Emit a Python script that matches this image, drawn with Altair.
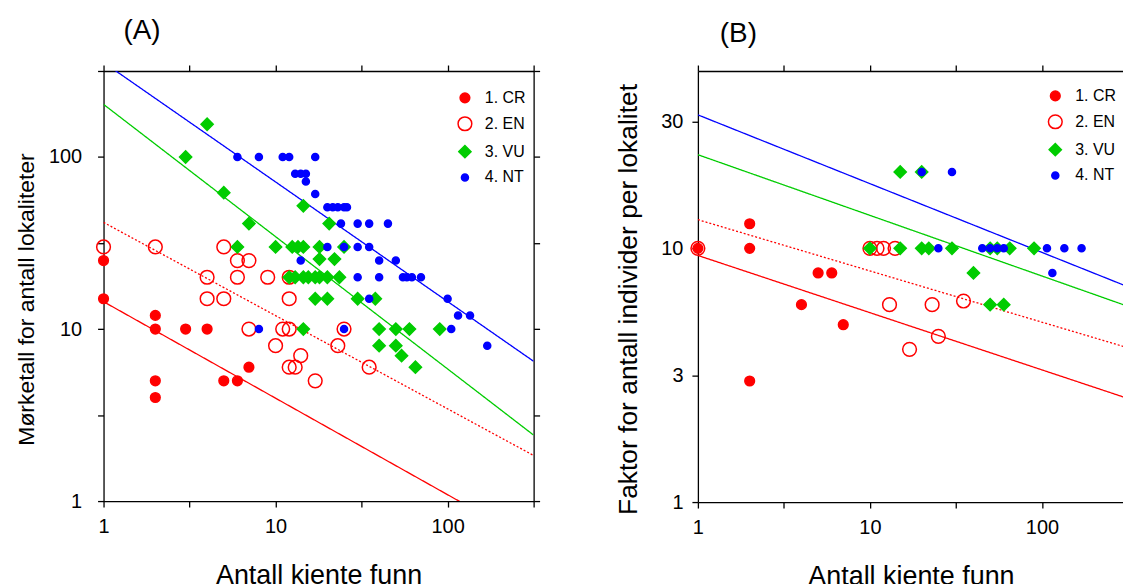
import math
import altair as alt
import pandas as pd

CATS = ["1. CR", "2. EN", "3. VU", "4. NT"]

# ---------------- Panel A data ----------------
a_cr_x = [1, 1, 2, 2, 3, 4, 2, 2, 5, 6, 7]
a_cr_y = [25, 15, 12, 10, 10, 10, 5, 4, 5, 5, 6]

a_en_x = [1, 2, 5, 6, 7, 4, 6, 9, 12, 4, 5, 12, 7, 11, 12, 25, 10, 14, 12, 13, 17, 23, 35]
a_en_y = [30, 30, 30, 25, 25, 20, 20, 20, 20, 15, 15, 15, 10, 10, 10, 10, 8, 7, 6, 6, 5, 8, 6]

a_vu_x = [3, 4, 5, 7, 14.5, 20.5, 6, 10, 12.5, 13.5, 14.5, 18, 25, 18, 22,
          12, 13, 14.5, 15.5, 17, 18, 20, 23.5, 17, 20, 30, 38, 14.5, 40, 50, 60, 90,
          40, 50, 54, 65]
a_vu_y = [100, 155, 62, 41, 52, 41, 30, 30, 30, 30, 30, 30, 30, 25.5, 25.5,
          20, 20, 20, 20, 20, 20, 20, 20, 15, 15, 15, 15, 10, 10, 10, 10, 10,
          8, 8, 7, 6]

a_nt_x = [6, 8, 11, 12, 17, 13, 14, 15, 15, 17, 20, 21.5, 23, 25, 26, 24, 30, 35, 45,
          20, 25, 30, 35, 14, 40, 50, 30, 40, 55, 58, 62, 70, 35, 100, 115, 135,
          8, 25, 105, 170]
a_nt_y = [100, 100, 100, 100, 100, 80, 80, 80, 72, 61, 51, 51, 51, 51, 51, 41, 41, 41, 41,
          30, 30, 30, 30, 25, 25, 25, 20, 20, 20, 20, 20, 20, 15, 15, 12, 12,
          10, 10, 10, 8]

# fitted lines (log10 y = a + b * log10 x)
a_fit_a = [1.159, 1.62, 2.306, 2.55]
a_fit_b = [-0.561, -0.542, -0.769, -0.695]

# ---------------- Panel B data ----------------
b_cr_x = [1, 2, 2, 5, 6, 4, 7, 2]
b_cr_y = [10, 10, 12.5, 8, 8, 6, 5, 3]

b_en_x = [1, 10, 11, 12, 14, 13, 23, 35, 17, 25]
b_en_y = [10, 10, 10, 10, 10, 6, 6, 6.2, 4, 4.5]

b_vu_x = [15, 20, 10, 15, 20, 22, 30, 50, 55, 65, 90, 40, 50, 60]
b_vu_y = [20, 20, 10, 10, 10, 10, 10, 10, 10, 10, 10, 8, 6, 6]

b_nt_x = [20, 30, 25, 45, 50, 55, 60, 107, 135, 170, 115]
b_nt_y = [20, 20, 10, 10, 10, 10, 10, 10, 10, 10, 8]

b_fit_a = [0.972, 1.113, 1.369, 1.526]
b_fit_b = [-0.2255, -0.202, -0.239, -0.271]

# ---------------- styles ----------------
FILLS = ["#ff0000", "transparent", "#00cc00", "#0000ff"]
STROKES = ["#ff0000", "#ff0000", "#00cc00", "#0000ff"]
SHAPES = ["circle", "circle", "diamond", "circle"]
SIZES = [95, 190, 150, 50]
LINE_COLORS = ["#ff0000", "#ff0000", "#00cc00", "#0000ff"]
LINE_DASH = [[1, 0], [2, 2], [1, 0], [1, 0]]

FONT = "Liberation Sans"


def points_df(groups):
    rows = []
    for cat, xs, ys in groups:
        for x, y in zip(xs, ys):
            rows.append({"x": x, "y": y, "cat": cat})
    return pd.DataFrame(rows)


def lines_df(fa, fb, xmin, xmax):
    rows = []
    for cat, a, b in zip(CATS, fa, fb):
        for x in (xmin, xmax):
            rows.append({"x": x, "y": 10 ** (a + b * math.log10(x)), "cat": cat})
    return pd.DataFrame(rows)


DEC_LABELS = "(datum.value == 1 || datum.value == 10 || datum.value == 100) ? '' + datum.value : ''"


def panel(pdf, ldf, xdom, ydom, xvals, yvals, ylabel_expr, ytitle, ytitle_size, title, dx,
          width, height, y_lab_pad, y_title_pad, title_y, leg_x, leg_y):
    xs = alt.Scale(type="log", domain=xdom, nice=False)
    ys = alt.Scale(type="log", domain=ydom, nice=False)

    x_bottom = alt.Axis(orient="bottom", values=xvals, labelExpr=DEC_LABELS,
                        title="Antall kjente funn", grid=False, tickSize=6,
                        labelPadding=10, titlePadding=26, labelFlush=False,
                        labelOverlap=False)
    y_left = alt.Axis(orient="left", values=yvals, labelExpr=ylabel_expr,
                      title=ytitle, titleFontSize=ytitle_size, grid=False, tickSize=6,
                      labelPadding=y_lab_pad, titlePadding=y_title_pad, titleY=title_y,
                      labelFlush=False, labelOverlap=False)
    x_top = alt.Axis(orient="top", values=xvals, labels=False, title=None,
                     grid=False, tickSize=6)
    y_right = alt.Axis(orient="right", values=yvals, labels=False, title=None,
                       grid=False, tickSize=6)

    layers = []
    for i, cat in enumerate(CATS):
        ln = alt.Chart(ldf).transform_filter(alt.datum.cat == cat).mark_line(
            clip=True, color=LINE_COLORS[i], strokeWidth=1.3, strokeDash=LINE_DASH[i]
        ).encode(
            x=alt.X("x:Q", scale=xs, axis=x_top if i == 0 else None),
            y=alt.Y("y:Q", scale=ys, axis=y_right if i == 0 else None),
        )
        layers.append(ln)

    leg = alt.Legend(title=None, orient="none", legendX=leg_x, legendY=leg_y,
                     labelFontSize=16, labelFont=FONT, rowPadding=8,
                     labelOffset=12, symbolStrokeWidth=1.5, padding=0)
    pts = alt.Chart(pdf).mark_point(filled=True, opacity=1, strokeWidth=1.5).encode(
        x=alt.X("x:Q", scale=xs, axis=x_bottom),
        y=alt.Y("y:Q", scale=ys, axis=y_left),
        fill=alt.Fill("cat:N", scale=alt.Scale(domain=CATS, range=FILLS), legend=leg),
        stroke=alt.Stroke("cat:N", scale=alt.Scale(domain=CATS, range=STROKES), legend=leg),
        shape=alt.Shape("cat:N", scale=alt.Scale(domain=CATS, range=SHAPES), legend=leg),
        size=alt.Size("cat:N", scale=alt.Scale(type="ordinal", domain=CATS, range=SIZES), legend=leg),
    )
    layers.append(pts)

    return alt.layer(*layers).resolve_axis(x="independent", y="independent").properties(
        width=width, height=height,
        title=alt.TitleParams(text=title, anchor="start", frame="group", dx=dx,
                              fontSize=28, font=FONT, fontWeight="normal", offset=16),
    )


pdf_a = points_df([(CATS[0], a_cr_x, a_cr_y), (CATS[1], a_en_x, a_en_y),
                   (CATS[2], a_vu_x, a_vu_y), (CATS[3], a_nt_x, a_nt_y)])
pdf_b = points_df([(CATS[0], b_cr_x, b_cr_y), (CATS[1], b_en_x, b_en_y),
                   (CATS[2], b_vu_x, b_vu_y), (CATS[3], b_nt_x, b_nt_y)])

A_X = [1, 316.2278]
A_Y = [1, 316.2278]
B_X = [1, 300]
B_Y = [1, 50]

ldf_a = lines_df(a_fit_a, a_fit_b, A_X[0], A_X[1])
ldf_b = lines_df(b_fit_a, b_fit_b, B_X[0], B_X[1])

half_dec = [1, 3.16228, 10, 31.6228, 100, 316.2278]
B_LABELS = ("datum.value < 2 ? '1' : datum.value < 5 ? '3' : "
            "datum.value < 20 ? '10' : '30'")

chart_a = panel(pdf_a, ldf_a, A_X, A_Y, half_dec, half_dec, DEC_LABELS,
                "Mørketall for antall lokaliteter", 23, "(A)", 20, 432, 432, 16, 10, 229, 355, 19)
chart_b = panel(pdf_b, ldf_b, B_X, B_Y, half_dec[:5], half_dec[:4], B_LABELS,
                "Faktor for antall individer per lokalitet", 26.5, "(B)", 22, 428, 433, 9, 18, 229, 351, 17)

chart = alt.hconcat(chart_a, chart_b, spacing=75).resolve_scale(
    x="independent", y="independent", fill="independent", stroke="independent",
    shape="independent", size="independent"
).resolve_legend(fill="independent", stroke="independent", shape="independent",
                 size="independent").properties(
    padding={"left": 15, "top": 16, "right": -8, "bottom": -6}
).configure(font=FONT).configure_view(stroke=None).configure_axis(
    labelFont=FONT, titleFont=FONT, labelFontSize=20, titleFontSize=25,
    titleFontWeight="normal", labelColor="black", titleColor="black",
    domainColor="black", tickColor="black", domainWidth=1.3, tickWidth=1.3,
).configure_axisBottom(titleFontSize=27)

chart.save("out.html", embed_options={"renderer": "svg", "actions": False})
